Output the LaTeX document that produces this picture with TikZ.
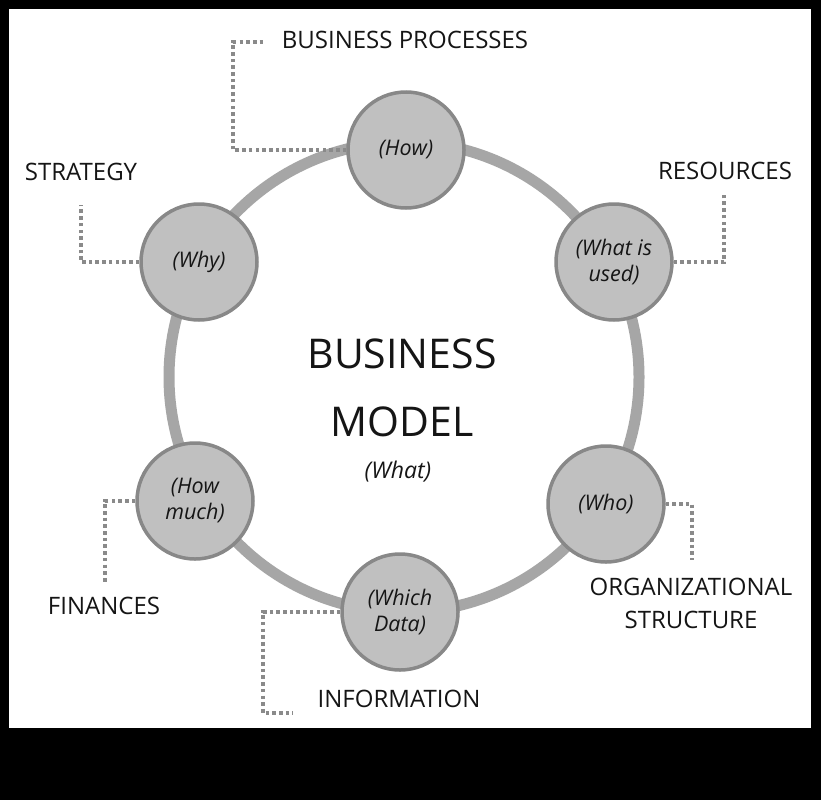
\documentclass[tikz,border=0pt]{standalone}
\usepackage{fontspec}
\setmainfont{Open Sans}
\definecolor{ringgray}{HTML}{A6A6A6}
\definecolor{circlefill}{HTML}{C0C0C0}
\definecolor{circleline}{HTML}{888888}
\definecolor{dotgray}{HTML}{8A8A8A}
\definecolor{inkblack}{HTML}{151515}
\begin{document}
\begin{tikzpicture}[x=1pt,y=-1pt,
  part/.style={circle,draw=circleline,fill=circlefill,line width=3.5pt,
    minimum size=116pt,inner sep=0pt,align=center,text=inkblack,
    font=\fontsize{21.5}{26}\selectfont\itshape},
  tag/.style={inner sep=0pt,align=center,text=inkblack,
    font=\fontsize{24}{33}\selectfont},
  link/.style={draw=dotgray,line width=3.8pt,dash pattern=on 3.6pt off 3.1pt}]
\fill[black] (0,0) rectangle (821,800);
\fill[white] (9,9) rectangle (811,728);
% ring
\draw[ringgray,line width=11pt] (404,377) circle (235);
% the six parts
\node[part] (how) at (406,150) {(How)};
\node[part] (why) at (199,262) {(Why)};
\node[part] (used) at (614,262) {(What is\\used)};
\node[part] (much) at (195,501) {(How\\much)};
\node[part] (who) at (606,504) {(Who)};
\node[part] (data) at (400,612) {(Which\\Data)};
% centre
\node[inner sep=0pt,align=center,text=inkblack,font=\fontsize{41}{68}\selectfont]
  (bm) at (402,388) {BUSINESS\\MODEL};
\node[inner sep=0pt,text=inkblack,font=\fontsize{23}{28}\selectfont\itshape]
  (what) at (398,472) {(What)};
% labels
\node[tag] (proc) at (405,40) {BUSINESS PROCESSES};
\node[tag] (strat) at (81,172) {STRATEGY};
\node[tag] (res) at (725,171) {RESOURCES};
\node[tag] (fin) at (104,606) {FINANCES};
\node[tag] (org) at (691,603) {ORGANIZATIONAL\\STRUCTURE};
\node[tag] (info) at (399,699) {INFORMATION};
% dotted links
\coordinate (procEnd) at (265,42);
\coordinate (stratEnd) at (81,205);
\coordinate (resEnd) at (724,192);
\coordinate (finEnd) at (105,584);
\coordinate (orgEnd) at (692,560);
\coordinate (infoEnd) at (293,713);
\draw[link] (how.west) -| (233,42) -- (procEnd);
\draw[link] (why.west) -| (stratEnd);
\draw[link] (used.east) -| (resEnd);
\draw[link] (much.west) -| (finEnd);
\draw[link] (who.east) -| (orgEnd);
\draw[link] (data.west) -| (263,713) -- (infoEnd);
\end{tikzpicture}
\end{document}
